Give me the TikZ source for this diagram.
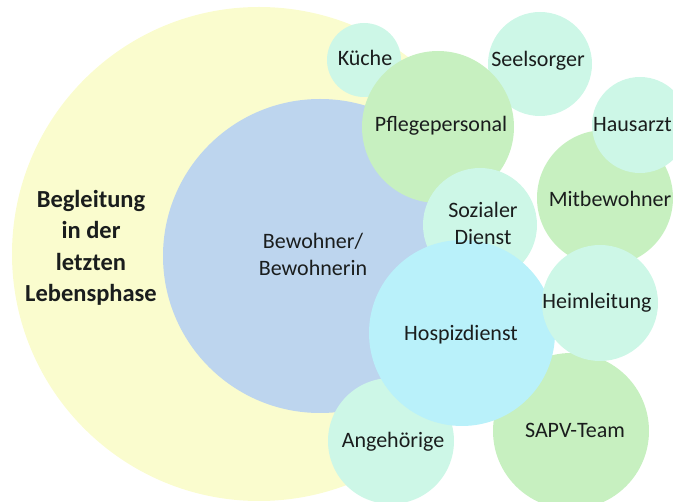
\documentclass[tikz,border=0pt]{standalone}
\usepackage{fontspec}
\setmainfont{Carlito}
\definecolor{cyellow}{HTML}{FAFCCE}
\definecolor{cblue}{HTML}{BDD5EE}
\definecolor{cmint}{HTML}{CDF7E7}
\definecolor{cgreen}{HTML}{C7F0C0}
\definecolor{ccyan}{HTML}{B9F1FA}
\definecolor{ctext}{HTML}{1A1D1D}
\begin{document}
\begin{tikzpicture}[x=1pt,y=-1pt,
  bubble/.style={circle, draw=none, inner sep=0pt, fill=#1},
  lbl/.style={text=ctext, align=center, inner sep=0pt, font=\fontsize{22}{27}\selectfont},
  blbl/.style={text=ctext, align=center, inner sep=0pt, font=\bfseries\fontsize{24.5}{31.5}\selectfont}]
\useasboundingbox (0,0) rectangle (673,502);
\clip (0,0) rectangle (673,502);
% circles, back to front
\node[bubble=cyellow, minimum size=494pt] (phase) at (259,254) {};
\node[bubble=cblue, minimum size=314pt] (bew) at (320,256) {};
\node[bubble=cmint, minimum size=74pt] (kue) at (364,60) {};
\node[bubble=cmint, minimum size=104pt] (seel) at (540,64) {};
\node[bubble=cgreen, minimum size=152pt] (pflege) at (438,127) {};
\node[bubble=cgreen, minimum size=136pt] (mitb) at (605,198) {};
\node[bubble=cmint, minimum size=96pt] (haus) at (640,125) {};
\node[bubble=cmint, minimum size=114pt] (sozial) at (480,225) {};
\node[bubble=cmint, minimum size=126pt] (angeh) at (391,441) {};
\node[bubble=cgreen, minimum size=156pt] (sapv) at (571,431) {};
\node[bubble=ccyan, minimum size=186pt] (hospiz) at (462,333) {};
\node[bubble=cmint, minimum size=116pt] (heim) at (600,303) {};
% labels
\node[blbl] (tphase) at (91,248) {Begleitung\\in der\\letzten\\Lebensphase};
\node[lbl] (tbew) at (313,254) {Bewohner/\\Bewohnerin};
\node[lbl] (tkue) at (365,58) {Küche};
\node[lbl] (tseel) at (538,61) {Seelsorger};
\node[lbl] (tpflege) at (441,126) {Pflegepersonal};
\node[lbl, anchor=east] (thaus) at (672,125) {Hausarzt};
\node[lbl] (tmitb) at (610,199) {Mitbewohner};
\node[lbl] (tsozial) at (483,223) {Sozialer\\Dienst};
\node[lbl] (theim) at (597,303) {Heimleitung};
\node[lbl] (thospiz) at (461,335) {Hospizdienst};
\node[lbl] (tangeh) at (393,442) {Angehörige};
\node[lbl] (tsapv) at (575,430) {SAPV-Team};
\end{tikzpicture}
\end{document}
